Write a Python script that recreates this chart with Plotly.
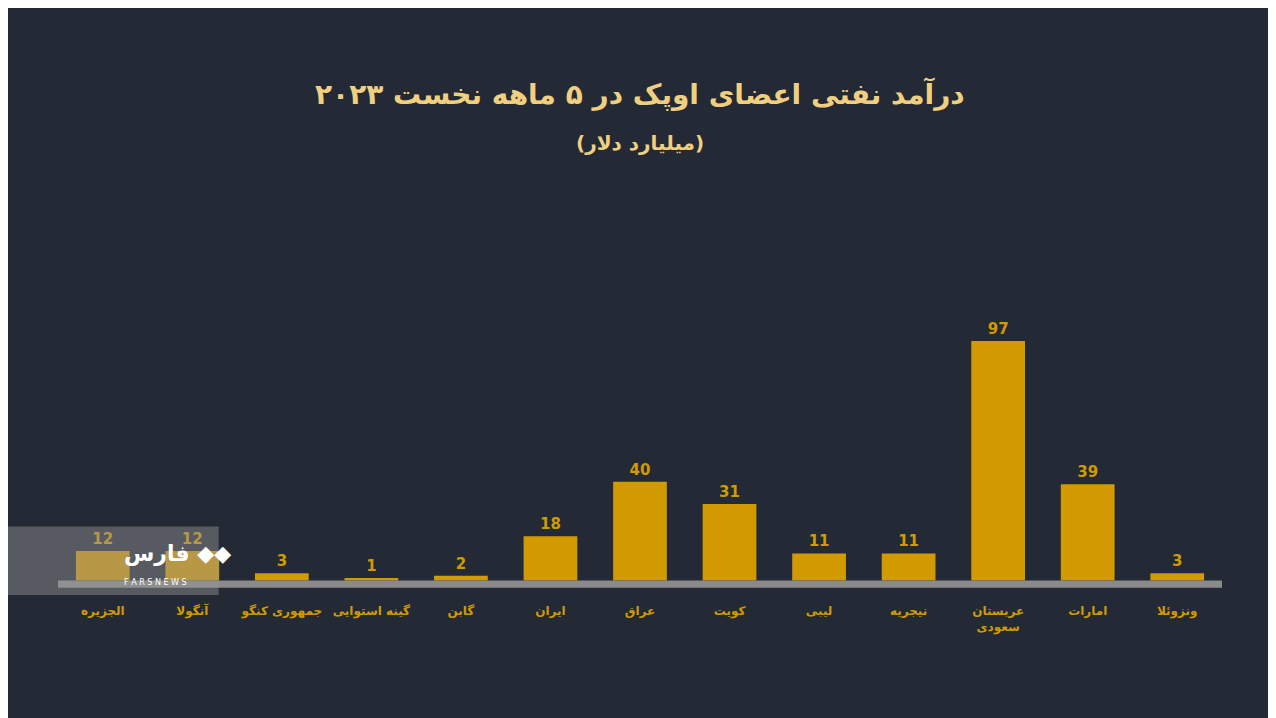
import plotly.graph_objects as go

countries = ["الجزیره", "آنگولا", "جمهوری کنگو", "گینه استوایی", "گابن", "ایران",
             "عراق", "کویت", "لیبی", "نیجریه", "عربستان<br>سعودی", "امارات", "ونزوئلا"]
revenue = [12, 12, 3, 1, 2, 18, 40, 31, 11, 11, 97, 39, 3]

bg = "#232a35"
gold = "#d19a00"
font_fam = "DejaVu Sans, Noto Sans, sans-serif"

fig = go.Figure()
fig.add_trace(go.Bar(
    x=countries, y=revenue, marker_color=gold, marker_line_width=0,
    text=[f"<b>{v}</b>" for v in revenue],
    textposition="outside", cliponaxis=False,
    textfont=dict(color=gold, size=15, family=font_fam),
))

# gray baseline band
fig.add_shape(type="rect", xref="paper", yref="y", x0=0, x1=1, y0=-2.9, y1=0,
              fillcolor="#8a8a8a", line_width=0, layer="above")

# logo overlay
fig.add_shape(type="rect", xref="paper", yref="paper", x0=-0.045, x1=0.138,
              y0=-0.025, y1=0.22, fillcolor="rgba(150,150,150,0.45)",
              line_width=0, layer="above")
fig.add_annotation(xref="paper", yref="paper", x=0.055, y=0.07, text="<b>فارس ◆◆</b>",
                   showarrow=False, font=dict(color="white", size=22, family=font_fam))
fig.add_annotation(xref="paper", yref="paper", x=0.055, y=-0.005, text="F A R S N E W S",
                   showarrow=False, font=dict(color="white", size=8, family=font_fam))

fig.add_annotation(xref="paper", yref="paper", x=0.5, y=1.84,
                   text="<b>درآمد نفتی اعضای اوپک در ۵ ماهه نخست ۲۰۲۳</b>",
                   showarrow=False, font=dict(color="#f0d080", size=28, family=font_fam))
fig.add_annotation(xref="paper", yref="paper", x=0.5, y=1.645,
                   text="<b>(میلیارد دلار)</b>",
                   showarrow=False, font=dict(color="#f0d080", size=20, family=font_fam))

fig.update_xaxes(showgrid=False, zeroline=False, showline=False,
                 ticks="outside", ticklen=12, tickcolor=bg,
                 tickvals=countries, ticktext=[f"<b>{c}</b>" for c in countries],
                 tickfont=dict(color=gold, size=12, family=font_fam))
fig.update_yaxes(range=[-3, 110], visible=False)
fig.update_layout(
    width=1276, height=718, paper_bgcolor=bg, plot_bgcolor=bg,
    margin=dict(l=50, r=62, t=301, b=138), bargap=0.4, showlegend=False,
    font=dict(family=font_fam, color=gold),
)
fig.write_html("out.html")
